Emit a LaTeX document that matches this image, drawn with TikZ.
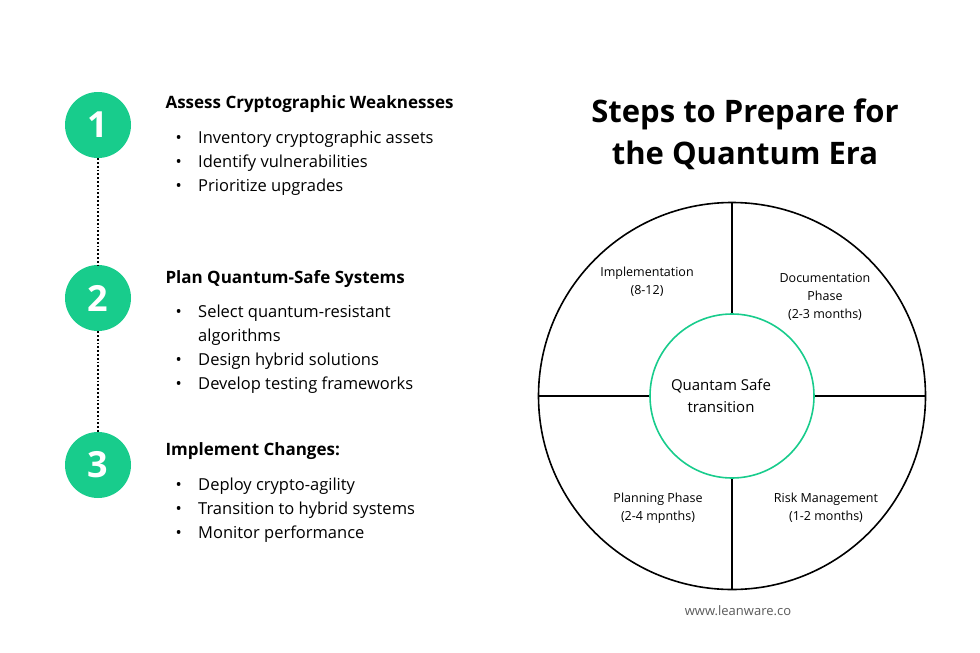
\documentclass[tikz,border=0pt]{standalone}
\usepackage{fontspec}
\setmainfont{Open Sans}
\definecolor{stepgreen}{RGB}{24,204,140}
\definecolor{webgrey}{RGB}{90,90,90}
\tikzset{
  stepnum/.style={circle, fill=stepgreen, minimum size=66pt, inner sep=0pt, text=white, font=\fontsize{36}{36}\selectfont\bfseries},
  stephead/.style={anchor=west, font=\fontsize{17}{20}\selectfont\bfseries},
  stepitem/.style={anchor=west, font=\fontsize{16.5}{24}\selectfont, align=left},
  phase/.style={align=center, font=\fontsize{12.5}{18}\selectfont},
}
\begin{document}
\begin{tikzpicture}[x=1pt,y=-1pt]
    \useasboundingbox (0,0) rectangle (980,653);

    % numbered steps
    \node[stepnum] (n1) at (98,125) {1};
    \node[stepnum] (n2) at (98,298) {2};
    \node[stepnum] (n3) at (98,465) {3};
    \draw[line width=1.8pt, dotted] (n1) -- (n2);
    \draw[line width=1.8pt, dotted] (n2) -- (n3);

    \node[stephead] (h1) at (162,104) {Assess Cryptographic Weaknesses};
    \node[stepitem] (l1) at (172,163) {\textbullet\quad Inventory cryptographic assets\\\textbullet\quad Identify vulnerabilities\\\textbullet\quad Prioritize upgrades};

    \node[stephead] (h2) at (162,279) {Plan Quantum-Safe Systems};
    \node[stepitem] (l2) at (172,349) {\textbullet\quad Select quantum-resistant\\\phantom{\textbullet}\quad algorithms\\\textbullet\quad Design hybrid solutions\\\textbullet\quad Develop testing frameworks};

    \node[stephead] (h3) at (162,451) {Implement Changes:};
    \node[stepitem] (l3) at (172,510) {\textbullet\quad Deploy crypto-agility\\\textbullet\quad Transition to hybrid systems\\\textbullet\quad Monitor performance};

    % title
    \node[align=center, font=\fontsize{31}{42}\selectfont\bfseries] (title) at (745,134) {Steps to Prepare for\\the Quantum Era};

    % wheel
    \coordinate (c) at (732,396);
    \draw[line width=1.6pt] (c) circle (193.5);
    \draw[line width=1.6pt] (732,202.5) -- (732,314);
    \draw[line width=1.6pt] (732,478) -- (732,589.5);
    \draw[line width=1.6pt] (538.5,396) -- (650,396);
    \draw[line width=1.6pt] (814,396) -- (925.5,396);
    \draw[line width=1.6pt, stepgreen, fill=white] (c) circle (82);

    \node[phase, font=\fontsize{15}{22}\selectfont] (core) at (721,396) {Quantam Safe\\transition};
    \node[phase] (p1) at (647,282) {Implementation\\(8-12)};
    \node[phase] (p2) at (825,297) {Documentation\\Phase\\(2-3 months)};
    \node[phase] (p3) at (658,508) {Planning Phase\\(2-4 mpnths)};
    \node[phase] (p4) at (826,508) {Risk Management\\(1-2 months)};

    \node[text=webgrey, font=\fontsize{13}{16}\selectfont] (web) at (738,611) {www.leanware.co};
\end{tikzpicture}
\end{document}
